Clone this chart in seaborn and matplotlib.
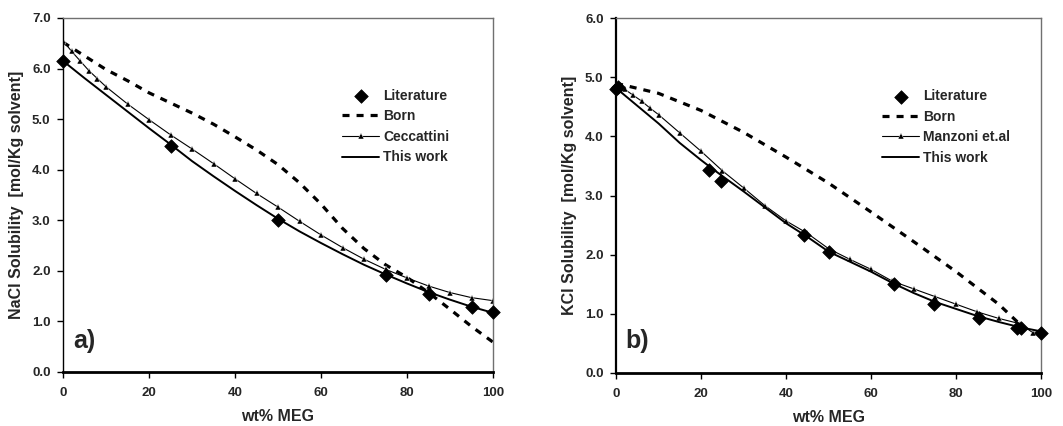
import numpy as np
import pandas as pd
import matplotlib
matplotlib.use("Agg")
import matplotlib.pyplot as plt
import seaborn as sns

# ---------------- data: panel a) NaCl ----------------
nacl_lit_x = [0, 25, 50, 75, 85, 95, 100]
nacl_lit_y = [6.15, 4.46, 3.01, 1.92, 1.55, 1.29, 1.19]

nacl_born_x = [0, 5, 10, 15, 20, 25, 30, 35, 40, 45, 50, 55, 60, 65, 70, 75, 80, 85, 90, 95, 100]
nacl_born_y = [6.52, 6.25, 5.98, 5.76, 5.52, 5.32, 5.12, 4.90, 4.65, 4.39, 4.10, 3.74, 3.32, 2.84,
               2.44, 2.12, 1.87, 1.57, 1.24, 0.90, 0.59]

nacl_cec_x = [0, 2, 4, 6, 8, 10, 15, 20, 25, 30, 35, 40, 45, 50, 55, 60, 65, 70, 75, 80, 85, 90, 95, 100]
nacl_cec_y = [6.55, 6.34, 6.15, 5.96, 5.80, 5.64, 5.30, 4.99, 4.69, 4.41, 4.12, 3.82, 3.53, 3.26, 2.98,
              2.71, 2.46, 2.23, 2.03, 1.86, 1.70, 1.57, 1.47, 1.41]

nacl_tw_x = [0, 5, 10, 15, 20, 25, 30, 35, 40, 45, 50, 55, 60, 65, 70, 75, 80, 85, 90, 95, 100]
nacl_tw_y = [6.15, 5.81, 5.48, 5.15, 4.82, 4.50, 4.17, 3.87, 3.58, 3.30, 3.03, 2.78, 2.55, 2.33, 2.12,
             1.93, 1.75, 1.58, 1.43, 1.29, 1.17]

# ---------------- data: panel b) KCl ----------------
kcl_lit_x = [0, 0.4, 21.9, 24.8, 44.3, 50.1, 65.4, 74.8, 85.3, 94.4, 95.2, 100]
kcl_lit_y = [4.80, 4.83, 3.43, 3.25, 2.33, 2.04, 1.50, 1.17, 0.92, 0.75, 0.76, 0.68]

kcl_born_x = [0, 10, 20, 30, 40, 50, 60, 70, 80, 90, 95]
kcl_born_y = [4.90, 4.73, 4.44, 4.07, 3.65, 3.21, 2.72, 2.22, 1.71, 1.16, 0.82]

kcl_man_x = [0, 2, 4, 6, 8, 10, 15, 20, 25, 30, 35, 40, 45, 50, 55, 60, 65, 70, 75, 80, 85, 90, 95, 98, 100]
kcl_man_y = [4.83, 4.80, 4.70, 4.60, 4.48, 4.37, 4.06, 3.75, 3.42, 3.13, 2.83, 2.57, 2.36, 2.10, 1.92,
             1.75, 1.55, 1.42, 1.29, 1.16, 1.03, 0.92, 0.83, 0.68, 0.70]

kcl_tw_x = [0, 5, 10, 15, 20, 22, 25, 30, 35, 40, 45, 50, 55, 60, 65, 70, 75, 80, 85, 90, 95, 100]
kcl_tw_y = [4.82, 4.52, 4.22, 3.89, 3.60, 3.49, 3.33, 3.07, 2.80, 2.53, 2.30, 2.05, 1.88, 1.71, 1.52,
            1.35, 1.20, 1.08, 0.96, 0.86, 0.77, 0.70]

sns.set_style("white")
plt.rcParams["font.family"] = ["Liberation Sans", "DejaVu Sans"]
plt.rcParams["font.weight"] = "bold"

fig = plt.figure(figsize=(10.63, 4.26), dpi=100)
axA = fig.add_axes([0.0593, 0.1268, 0.4045, 0.8310])
axB = fig.add_axes([0.5795, 0.1250, 0.4000, 0.8320])

FS_TICK = 9.5
FS_LAB = 11.5
FS_LEG = 10


def draw(ax, lit_x, lit_y, born_x, born_y, mod_x, mod_y, mod_label, tw_x, tw_y,
         ymax, ylabel, tag, leg_anchor, left_lw):
    sns.scatterplot(x=lit_x, y=lit_y, ax=ax, marker="D", s=48, color="black",
                    edgecolor="black", linewidth=0.5, label="Literature", zorder=5, clip_on=False)
    sns.lineplot(x=born_x, y=born_y, ax=ax, color="black", lw=2.3,
                 linestyle=(0, (2.2, 2.2)), label="Born", estimator=None, sort=False)
    sns.lineplot(x=mod_x, y=mod_y, ax=ax, color="black", lw=0.8, marker="^",
                 markersize=3.8, markeredgewidth=0.3, label=mod_label, estimator=None, sort=False)
    sns.lineplot(x=tw_x, y=tw_y, ax=ax, color="black", lw=1.4, label="This work",
                 estimator=None, sort=False)

    ax.set_xlim(0, 100)
    ax.set_ylim(0, ymax)
    ax.set_xticks(np.arange(0, 101, 20))
    ax.set_yticks(np.arange(0, ymax + 0.01, 1.0))
    ax.set_yticklabels([f"{v:.1f}" for v in np.arange(0, ymax + 0.01, 1.0)])
    ax.tick_params(axis="both", which="both", direction="out", length=4, width=1,
                   color="black", labelsize=FS_TICK)
    ax.tick_params(axis="x", pad=7, bottom=True)
    ax.tick_params(axis="y", pad=5, left=True)
    for lab in ax.get_xticklabels() + ax.get_yticklabels():
        lab.set_fontweight("bold")

    ax.set_xlabel("wt% MEG", fontsize=FS_LAB, fontweight="bold", labelpad=7)
    ax.set_ylabel(ylabel, fontsize=FS_LAB, fontweight="bold", labelpad=6)

    ax.spines["bottom"].set_linewidth(2.0)
    ax.spines["bottom"].set_color("black")
    ax.spines["left"].set_linewidth(left_lw)
    ax.spines["left"].set_color("black")
    ax.spines["top"].set_linewidth(1.0)
    ax.spines["top"].set_color("#707070")
    ax.spines["right"].set_linewidth(1.0)
    ax.spines["right"].set_color("#707070")

    ax.text(0.023, 0.055, tag, transform=ax.transAxes, fontsize=18, fontweight="bold",
            ha="left", va="bottom")

    handles, labels = ax.get_legend_handles_labels()
    leg = ax.legend(handles, labels, loc="upper left", bbox_to_anchor=leg_anchor,
                    frameon=False, fontsize=FS_LEG, handlelength=2.66, handletextpad=0.3,
                    labelspacing=0.47, borderpad=0, borderaxespad=0)
    for t in leg.get_texts():
        t.set_fontweight("bold")


draw(axA, nacl_lit_x, nacl_lit_y, nacl_born_x, nacl_born_y, nacl_cec_x, nacl_cec_y,
     "Ceccattini", nacl_tw_x, nacl_tw_y, 7.0, "NaCl Solubility  [mol/Kg solvent]", "a)",
     (0.649, 0.80), 1.0)
draw(axB, kcl_lit_x, kcl_lit_y, kcl_born_x, kcl_born_y, kcl_man_x, kcl_man_y,
     "Manzoni et.al", kcl_tw_x, kcl_tw_y, 6.0, "KCl Solubility  [mol/Kg solvent]", "b)",
     (0.626, 0.80), 1.6)

fig.savefig("out.png", dpi=100)
